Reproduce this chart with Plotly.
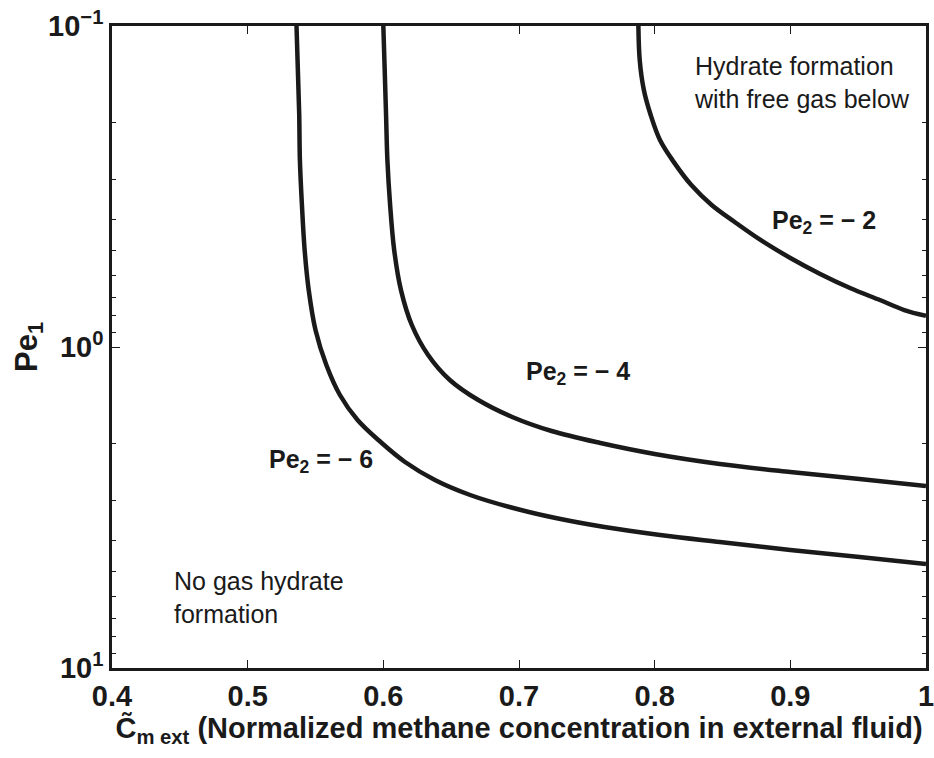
import plotly.graph_objects as go

# ---- data ----
c_pe2_m6 = [0.536, 0.537, 0.538, 0.5385, 0.540, 0.542, 0.545, 0.550, 0.558, 0.568, 0.581, 0.598, 0.616,
            0.638, 0.664, 0.693, 0.727, 0.763, 0.804, 0.848, 0.900, 0.951, 1.0]
pe1_pe2_m6 = [0.100, 0.137, 0.189, 0.262, 0.361, 0.499, 0.665, 0.885, 1.138, 1.411, 1.688, 1.977, 2.282,
              2.596, 2.891, 3.151, 3.410, 3.637, 3.851, 4.050, 4.289, 4.510, 4.743]

c_pe2_m4 = [0.600, 0.601, 0.602, 0.603, 0.605, 0.608, 0.613, 0.621, 0.633, 0.649, 0.670, 0.695, 0.724,
            0.760, 0.800, 0.848, 0.900, 0.951, 1.0]
pe1_pe2_m4 = [0.100, 0.137, 0.189, 0.262, 0.361, 0.499, 0.665, 0.854, 1.059, 1.267, 1.463, 1.652, 1.827,
              1.991, 2.154, 2.314, 2.451, 2.577, 2.710]

c_pe2_m2 = [0.788, 0.789, 0.792, 0.797, 0.804, 0.814, 0.827, 0.842, 0.859, 0.878, 0.900, 0.922, 0.944,
            0.966, 0.984, 1.0]
pe1_pe2_m2 = [0.100, 0.128, 0.158, 0.189, 0.227, 0.265, 0.313, 0.361, 0.408, 0.464, 0.528, 0.592, 0.655,
              0.714, 0.767, 0.800]

x_ticks = [0.4, 0.5, 0.6, 0.7, 0.8, 0.9, 1.0]
x_ticklabels = ["0.4", "0.5", "0.6", "0.7", "0.8", "0.9", "1"]
y_ticks = [0.1, 1, 10]
y_ticklabels = ["10<sup>−1</sup>", "10<sup>0</sup>", "10<sup>1</sup>"]
y_minor = [0.2, 0.3, 0.4, 0.5, 0.6, 0.7, 0.8, 0.9, 2, 3, 4, 5, 6, 7, 8, 9]

INK = "#1a1a1a"
FONT = "Liberation Sans, Arial, Helvetica, sans-serif"

fig = go.Figure()
for cx, py in [(c_pe2_m6, pe1_pe2_m6), (c_pe2_m4, pe1_pe2_m4), (c_pe2_m2, pe1_pe2_m2)]:
    fig.add_trace(go.Scatter(
        x=cx, y=py, mode="lines",
        line=dict(color=INK, width=4.5, shape="spline", smoothing=1.0),
        showlegend=False, hoverinfo="skip"))

fig.update_layout(
    width=934, height=758,
    margin=dict(l=112, r=8, t=26, b=90),
    paper_bgcolor="white", plot_bgcolor="white",
    font=dict(family=FONT, color=INK),
    xaxis=dict(
        range=[0.4, 1.0], tickmode="array", tickvals=x_ticks, ticktext=x_ticklabels,
        ticks="inside", ticklen=8, tickwidth=1, tickcolor=INK,
        showline=True, linewidth=2.5, linecolor=INK, mirror="ticks",
        showgrid=False, zeroline=False, automargin=False, ticklabeloverflow="allow",
        tickfont=dict(family=FONT, size=29, weight="bold", color=INK),
        title=dict(text="C̃<sub>m ext</sub> (Normalized methane concentration in external fluid)",
                   font=dict(family=FONT, size=29, weight="bold", color=INK), standoff=4),
    ),
    yaxis=dict(
        type="log", range=[1, -1], tickmode="array", tickvals=y_ticks, ticktext=y_ticklabels,
        ticks="inside", ticklen=8, tickwidth=1, tickcolor=INK,
        showline=True, linewidth=2.5, linecolor=INK, mirror="ticks",
        showgrid=False, zeroline=False, automargin=False, ticklabeloverflow="allow",
        minor=dict(ticks="inside", ticklen=4, tickwidth=1, tickcolor=INK, tickvals=y_minor, showgrid=False),
        tickfont=dict(family=FONT, size=29, weight="bold", color=INK),
        title=dict(text="Pe<sub>1</sub>", font=dict(family=FONT, size=31, weight="bold", color=INK), standoff=2),
    ),
)

ann_font_b = dict(family=FONT, size=25, weight="bold", color=INK)
ann_font = dict(family=FONT, size=25, color=INK)
fig.add_annotation(x=0.885, y=-0.389, xref="x", yref="y", text="Pe<sub>2</sub> = − 2",
                   showarrow=False, xanchor="left", yanchor="middle", font=ann_font_b)
fig.add_annotation(x=0.704, y=0.081, xref="x", yref="y", text="Pe<sub>2</sub> = − 4",
                   showarrow=False, xanchor="left", yanchor="middle", font=ann_font_b)
fig.add_annotation(x=0.514, y=0.355, xref="x", yref="y", text="Pe<sub>2</sub> = − 6",
                   showarrow=False, xanchor="left", yanchor="middle", font=ann_font_b)
fig.add_annotation(x=0.8275, y=-0.8255, xref="x", yref="y", text="Hydrate formation<br>with free gas below",
                   showarrow=False, xanchor="left", yanchor="middle", align="left", font=ann_font)
fig.add_annotation(x=0.4445, y=0.779, xref="x", yref="y", text="No gas hydrate<br>formation",
                   showarrow=False, xanchor="left", yanchor="middle", align="left", font=ann_font)

fig.write_html("out.html")
